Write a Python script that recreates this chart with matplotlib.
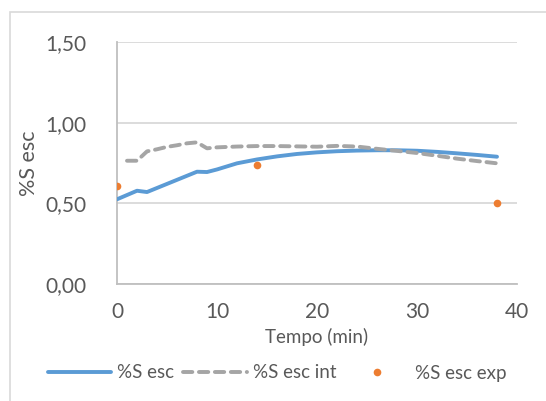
import matplotlib
matplotlib.use("Agg")
import matplotlib.pyplot as plt
from matplotlib.patches import Rectangle
from matplotlib.ticker import FuncFormatter

plt.rcParams['font.family'] = ['Lato', 'DejaVu Sans']

# %S esc (model curve)
t_esc = [0, 2, 3, 8, 9, 10, 12, 14, 16, 18, 20, 22, 24, 26, 28, 30, 32, 34, 36, 38]
s_esc = [0.525, 0.578, 0.570, 0.696, 0.694, 0.710, 0.748, 0.772, 0.791, 0.806,
         0.816, 0.823, 0.827, 0.829, 0.829, 0.826, 0.819, 0.810, 0.800, 0.789]

# %S esc int
t_int = [1, 2, 3, 4, 5, 6, 7, 8, 9, 10, 12, 14, 16, 18, 20, 22, 24, 26, 28, 30, 32, 34, 36, 38]
s_int = [0.764, 0.764, 0.822, 0.835, 0.850, 0.860, 0.872, 0.878, 0.841, 0.847, 0.852,
         0.855, 0.855, 0.853, 0.851, 0.856, 0.852, 0.838, 0.825, 0.812, 0.795, 0.777,
         0.762, 0.748]

# %S esc exp (experimental points)
t_exp = [0, 14, 38]
s_exp = [0.61, 0.738, 0.505]

x_ticks = [0, 10, 20, 30, 40]
y_ticks = [0.0, 0.5, 1.0, 1.5]

txt = '#595959'
grid = '#d9d9d9'

fig = plt.figure(figsize=(5.46, 4.01), dpi=100)
fig.patches.append(Rectangle((10 / 546, -0.1), 1.2, 0.1 + (1 - 12 / 401),
                             transform=fig.transFigure, fill=False,
                             edgecolor='#d9d9d9', linewidth=1.2))

ax = fig.add_axes([117 / 546, 1 - 284 / 401, 400 / 546, 242 / 401])
ax.plot(t_esc, s_esc, color='#5b9bd5', lw=2.8, solid_capstyle='round',
        solid_joinstyle='round', label='%S esc', zorder=3)
ax.plot(t_int, s_int, color='#a5a5a5', lw=2.8, dashes=(2.4, 1.7),
        dash_capstyle='round', label='%S esc int', zorder=3)
ax.plot(t_exp, s_exp, 'o', color='#ed7d31', ms=5.5, mec='none',
        label='%S esc exp', zorder=4)

ax.set_xlim(0, 40)
ax.set_ylim(0, 1.5)
ax.set_xticks(x_ticks)
ax.set_yticks(y_ticks)
ax.yaxis.set_major_formatter(FuncFormatter(lambda v, p: f"{v:.2f}".replace('.', ',')))
ax.grid(axis='y', color=grid, lw=1.3)
ax.set_axisbelow(True)
for side in ('top', 'right'):
    ax.spines[side].set_visible(False)
for side in ('left', 'bottom'):
    ax.spines[side].set_color('#bfbfbf')
    ax.spines[side].set_linewidth(1.3)
ax.tick_params(length=0, labelsize=15, labelcolor=txt)
ax.tick_params(axis='y', pad=22)
ax.tick_params(axis='x', pad=13)

ax.set_xlabel('Tempo (min)', fontsize=13.5, color=txt, labelpad=4)
ax.set_ylabel('%S esc', fontsize=15.5, color=txt)
ax.yaxis.set_label_coords(-0.195, 0.5)

fig.legend(loc='center', bbox_to_anchor=(277 / 546, 1 - 373 / 401), ncol=3,
           frameon=False, fontsize=13.5, labelcolor=txt, handlelength=3.4,
           handletextpad=0.3, columnspacing=0.5)

fig.savefig('out.png', dpi=100)
